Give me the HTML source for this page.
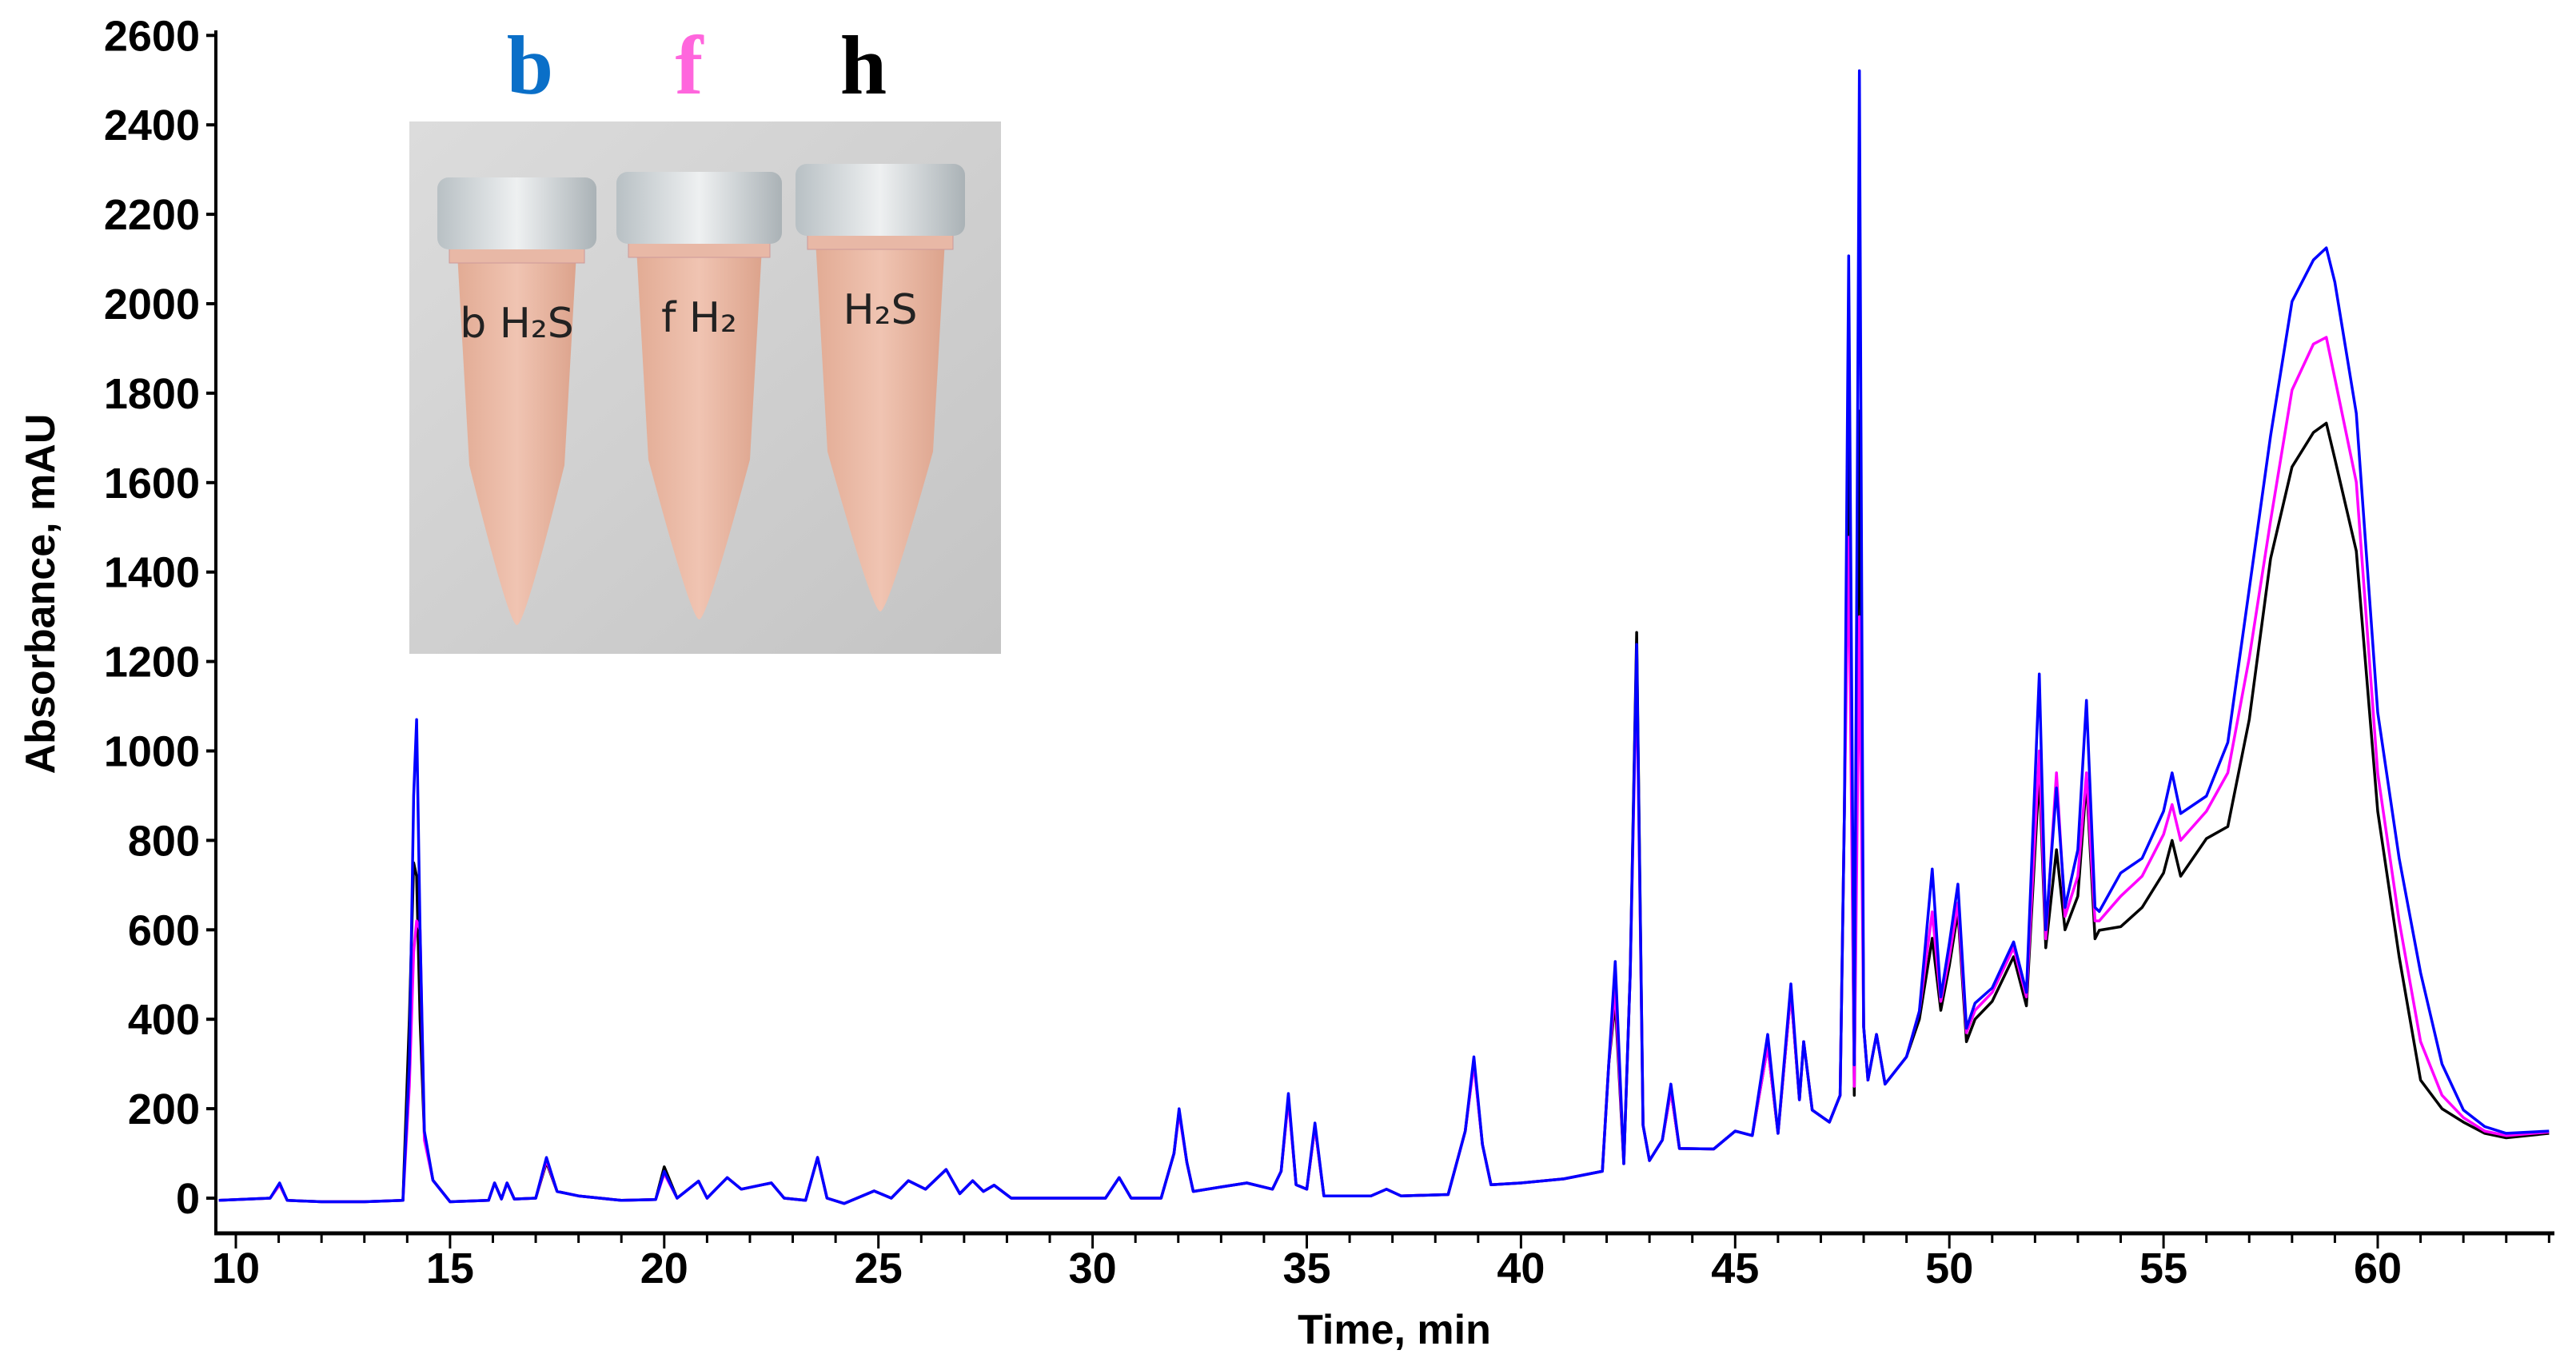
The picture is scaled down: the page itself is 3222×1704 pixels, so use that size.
<!DOCTYPE html>
<html><head><meta charset="utf-8"><style>
html,body{margin:0;padding:0;background:#fff;}
svg{display:block;font-family:"Liberation Sans",sans-serif;}
</style></head><body>
<svg id="chart" width="3222" height="1704" viewBox="0 0 3222 1704" xmlns="http://www.w3.org/2000/svg">
<defs>
<linearGradient id="bg" x1="0" y1="0" x2="1" y2="1"><stop offset="0" stop-color="#dcdcdc"/><stop offset="1" stop-color="#c4c4c4"/></linearGradient>
<linearGradient id="liq" x1="0" y1="0" x2="1" y2="0"><stop offset="0" stop-color="#e2ab94"/><stop offset="0.5" stop-color="#f0c4b2"/><stop offset="1" stop-color="#dca38c"/></linearGradient>
<linearGradient id="cap" x1="0" y1="0" x2="1" y2="0"><stop offset="0" stop-color="#b8c0c4"/><stop offset="0.5" stop-color="#eef0f1"/><stop offset="1" stop-color="#aab2b6"/></linearGradient>
</defs>
<g id="photo">
<rect x="512" y="152" width="740" height="666" fill="url(#bg)"/>
</g>
<text x="663" y="117" font-family="Liberation Serif,serif" font-weight="bold" font-size="105" fill="#0a6fc8" text-anchor="middle">b</text>
<text x="862" y="117" font-family="Liberation Serif,serif" font-weight="bold" font-size="105" fill="#ff66dd" text-anchor="middle">f</text>
<text x="1080" y="117" font-family="Liberation Serif,serif" font-weight="bold" font-size="105" fill="#000" text-anchor="middle">h</text>
<g id="axes"></g>
<g id="series"></g>
<text transform="translate(68,743) rotate(-90)" text-anchor="middle" font-weight="bold" font-size="52">Absorbance, mAU</text>
<text x="1744" y="1681" text-anchor="middle" font-weight="bold" font-size="52">Time, min</text>
</svg>
<script>
const times = [9.6,10.8,11.02,11.2,12,13,13.9,14.05,14.15,14.22,14.3,14.4,14.6,15.0,15.9,16.04,16.2,16.33,16.5,17.0,17.25,17.5,18,19,19.8,20.0,20.3,20.8,21.0,21.47,21.8,22.3,22.5,22.8,23.3,23.58,23.8,24.2,24.9,25.3,25.7,26.1,26.58,26.9,27.2,27.45,27.7,28.1,30.3,30.62,30.9,31.6,31.9,32.02,32.2,32.35,33,33.6,34.2,34.4,34.57,34.75,35.0,35.19,35.4,36.5,36.86,37.2,38.3,38.7,38.9,39.1,39.3,40,41,41.9,42.05,42.2,42.4,42.55,42.7,42.85,43.0,43.3,43.5,43.7,44.5,45,45.4,45.76,46.0,46.3,46.5,46.6,46.8,47.2,47.45,47.55,47.65,47.78,47.9,48.0,48.1,48.3,48.5,49.0,49.3,49.6,49.8,50.0,50.2,50.4,50.6,51.0,51.5,51.8,52.1,52.25,52.5,52.7,53.0,53.2,53.4,53.5,54.0,54.5,55.0,55.2,55.4,56,56.5,57,57.5,58,58.5,58.8,59,59.5,60,60.5,61,61.5,62,62.5,63,64];
const seriesB = [-5,0,34,-5,-8,-8,-5,300,900,1070,600,150,40,-8,-5,34,-2,34,-2,0,91,15,5,-5,-3,60,0,38,0,46,20,30,34,0,-5,91,0,-12,16,0,39,20,64,10,39,15,29,0,0,46,0,0,100,200,80,15,25,34,20,60,234,30,20,168,5,5,20,5,8,150,316,120,30,34,43,60,300,529,77,500,1238,163,84,130,255,111,110,150,140,366,145,479,220,350,197,170,230,860,2107,298,2521,384,264,366,255,316,418,736,450,570,702,380,436,470,573,460,1172,600,917,650,779,1113,650,641,727,760,865,951,860,899,1019,1362,1705,2005,2098,2125,2048,1755,1086,760,504,300,197,160,145,150];
const seriesF = [-5,0,30,-5,-8,-8,-5,250,550,620,600,130,40,-8,-5,34,-2,34,-2,0,85,15,5,-5,-3,55,0,38,0,46,20,30,34,0,-5,91,0,-12,16,0,39,20,64,10,39,15,29,0,0,46,0,0,100,190,80,15,25,34,20,60,220,30,20,160,5,5,20,5,8,150,300,120,30,34,43,60,300,470,77,500,1190,163,84,130,240,111,110,150,140,340,145,460,220,350,197,170,230,860,1478,250,1300,384,264,366,255,316,418,640,440,540,660,370,420,460,560,450,1000,580,951,630,720,951,620,620,675,720,813,880,800,865,951,1208,1515,1807,1910,1925,1833,1601,950,620,350,230,180,150,140,148];
const seriesH = [-5,0,30,-5,-8,-8,-5,400,750,720,400,140,40,-8,-5,34,-2,34,-2,0,80,15,5,-5,-3,70,0,38,0,46,20,30,34,0,-5,91,0,-12,16,0,39,20,64,10,39,15,29,0,0,46,0,0,100,195,80,15,25,34,20,60,225,30,20,160,5,5,20,5,8,150,305,120,30,34,43,60,300,440,77,500,1265,163,84,130,240,111,110,150,140,340,145,460,220,350,197,170,230,860,1701,230,1760,384,264,366,255,316,400,581,420,520,641,350,400,440,540,430,951,560,779,600,675,933,580,599,607,650,727,800,720,804,831,1070,1430,1635,1712,1733,1653,1447,865,540,264,200,170,145,135,145];
const yTicks = [0,200,400,600,800,1000,1200,1400,1600,1800,2000,2200,2400,2600];
const xTicks = [10,15,20,25,30,35,40,45,50,55,60];

const NS='http://www.w3.org/2000/svg';
const xS = t => 295 + 53.58*(t-10);
const yS = v => 1499 - v/200*111.9;
const axes=document.getElementById('axes');
function mk(tag,attrs,parent){const e=document.createElementNS(NS,tag);for(const k in attrs)e.setAttribute(k,attrs[k]);parent.appendChild(e);return e;}
const yl=mk('line',{x1:270,y1:38,x2:270,y2:1545,stroke:'#000','stroke-width':4},axes);


const xl=mk('line',{x1:268,y1:1543,x2:3195,y2:1543,stroke:'#000','stroke-width':5},axes);


yTicks.forEach(v=>{
  mk('line',{x1:258,y1:yS(v),x2:270,y2:yS(v),stroke:'#000','stroke-width':4},axes);
  const t=mk('text',{x:250,y:yS(v)+19,'text-anchor':'end','font-weight':'bold','font-size':54},axes);
  t.textContent=v;
  
  
});
for(let m=10;m<=64;m++){
  mk('line',{x1:xS(m),y1:1543,x2:xS(m),y2:m%5===0?1562:1555,stroke:'#000','stroke-width':3},axes);
}
xTicks.forEach(v=>{
  const t=mk('text',{x:xS(v),y:1605,'text-anchor':'middle','font-weight':'bold','font-size':54},axes);
  t.textContent=v;
  
  
});
const sg=document.getElementById('series');
[[seriesH,'#000000','series-h-black'],[seriesF,'#ff00ff','series-f-pink'],[seriesB,'#0000ff','series-b-blue']].forEach(([arr,col,name])=>{
  const pts=times.map((t,i)=>xS(t).toFixed(1)+','+yS(arr[i]).toFixed(1)).join(' ');
  const p=mk('polyline',{points:pts,fill:'none',stroke:col,'stroke-width':3.5,'stroke-linejoin':'round'},sg);
  
  
});
// photo tubes
const ph=document.getElementById('photo');
[[547,746,222],[771,978,215],[995,1207,205]].forEach(([a,b,top],i)=>{
  const cx=(a+b)/2, w=b-a;
  mk('path',{d:`M${a+25},${top+95} L${b-25},${top+95} L${b-40},${top+360} Q${cx+10},${top+560} ${cx},${top+560} Q${cx-10},${top+560} ${a+40},${top+360} Z`,fill:'url(#liq)'},ph);
  mk('rect',{x:a+15,y:top+85,width:w-30,height:22,fill:'#e8b8a6',stroke:'#cc9999','stroke-width':1},ph);
  mk('rect',{x:a,y:top,width:w,height:90,rx:14,fill:'url(#cap)'},ph);
  const lab=mk('text',{x:cx,y:top+200,'text-anchor':'middle','font-size':52,fill:'#222','font-family':'DejaVu Sans,sans-serif'},ph);
  lab.textContent=['b H₂S','f H₂','H₂S'][i];
  
  
});
</script>
</body></html>
